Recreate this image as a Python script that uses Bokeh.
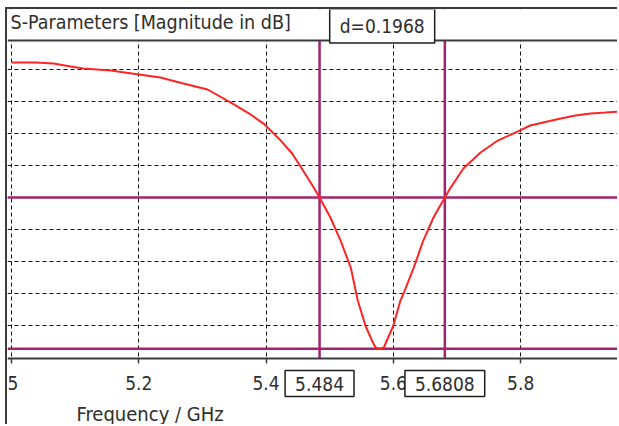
from bokeh.plotting import figure
from bokeh.models import Span, Label, FixedTicker, LinearAxis, Grid, BoxAnnotation
from bokeh.embed import file_html
from bokeh.resources import INLINE

# ---- data ----
freq_ghz = [5.000, 5.038, 5.066, 5.093, 5.113, 5.156, 5.200, 5.234, 5.270, 5.308,
            5.344, 5.371, 5.396, 5.423, 5.441, 5.454, 5.470, 5.484, 5.501, 5.517,
            5.533, 5.544, 5.556, 5.567, 5.572, 5.578, 5.585, 5.589, 5.600, 5.611,
            5.616, 5.632, 5.647, 5.663, 5.6808, 5.690, 5.710, 5.737, 5.764, 5.795,
            5.815, 5.842, 5.863, 5.886, 5.910, 5.933, 5.955]
s11_db = [-1.56, -1.56, -1.63, -1.81, -1.94, -2.06, -2.31, -2.50, -2.88, -3.25,
          -4.06, -4.69, -5.38, -6.44, -7.25, -8.06, -9.06, -10.00, -11.25, -12.69,
          -14.38, -16.44, -18.00, -19.00, -19.38, -19.45, -19.38, -19.00, -18.00, -16.44,
          -16.00, -14.38, -12.69, -11.25, -10.00, -9.38, -8.19, -7.19, -6.44, -5.88,
          -5.50, -5.25, -5.06, -4.88, -4.75, -4.69, -4.63]

x_ticks = [5.0, 5.2, 5.4, 5.6, 5.8]
x_tick_labels = ["5", "5.2", "5.4", "5.6", "5.8"]
y_grid_values = [-18, -16, -14, -12, -10, -8, -6, -4, -2]
y_plot_bottom = -20.06
y_plot_top = -0.19

marker_f1 = 5.484
marker_f2 = 5.6808
level_db = -10.0
bandwidth = 0.1968

title_text = "S-Parameters [Magnitude in dB]"
x_label_text = "Frequency / GHz"

FONT = "DejaVu Sans Condensed"
TEXT = "#2e2e2e"
FRAME = "#3c3c3c"
MAG = "#a3236e"
RED = "#ff2424"

p = figure(width=612, height=417,
           x_range=(4.99372, 5.95523), y_range=(-24.3125, 1.75),
           output_backend="svg", toolbar_location=None,
           x_axis_location=None, y_axis_location=None,
           min_border_left=0, min_border_right=0,
           min_border_top=0, min_border_bottom=0)
p.styles = {"margin-left": "5px", "margin-top": "7px",
            "border-left": "2px solid " + FRAME, "border-top": "2px solid " + FRAME}
p.outline_line_color = None
p.background_fill_color = "white"
p.border_fill_color = "white"

# grids (hide defaults, add own)
for g in p.grid:
    g.visible = False
p.add_layout(Grid(dimension=0, ticker=FixedTicker(ticks=x_ticks),
                  grid_line_color="#111111", grid_line_dash="4 3", grid_line_width=1))
p.add_layout(Grid(dimension=1, ticker=FixedTicker(ticks=y_grid_values),
                  grid_line_color="#111111", grid_line_dash="4 3", grid_line_width=1))

# markers
min_db = min(s11_db)
for loc in (marker_f1, marker_f2):
    p.add_layout(Span(location=loc, dimension="height", line_color=MAG, line_width=2.5, level="underlay"))
for loc in (level_db, min_db):
    p.add_layout(Span(location=loc, dimension="width", line_color=MAG, line_width=2.5, level="underlay"))

# blank the header and footer areas outside the plotting region
p.add_layout(BoxAnnotation(bottom=y_plot_top, fill_color="white", fill_alpha=1,
                           line_color=None, level="underlay"))
p.add_layout(BoxAnnotation(top=y_plot_bottom, fill_color="white", fill_alpha=1,
                           line_color=None, level="underlay"))

# x axis at the bottom of the plotting region
ax = LinearAxis(fixed_location=y_plot_bottom, ticker=FixedTicker(ticks=x_ticks))
ax.major_label_overrides = {t: s for t, s in zip(x_ticks, x_tick_labels)}
ax.axis_line_color = FRAME
ax.axis_line_width = 2
ax.major_tick_line_color = FRAME
ax.major_tick_line_width = 1.5
ax.major_tick_in = 0
ax.major_tick_out = 5
ax.minor_tick_line_color = None
ax.major_label_text_font = FONT
ax.major_label_text_font_size = "19px"
ax.major_label_text_color = TEXT
ax.major_label_standoff = 13
p.add_layout(ax, "below")

# top line of the plotting region
p.add_layout(Span(location=y_plot_top, dimension="width", line_color=FRAME, line_width=2))

# curve
p.line(freq_ghz, s11_db, line_color=RED, line_width=2)

# texts (positions in data units of the axes)
x_left = 5.0
p.add_layout(Label(x=x_left, y=0.94, text=title_text, x_offset=-1,
                   text_font=FONT, text_font_size="19.5px", text_color=TEXT,
                   text_baseline="middle", text_align="left"))
p.add_layout(Label(x=(marker_f1 + marker_f2) / 2, y=0.72,
                   text="d=%.4f" % bandwidth, text_font=FONT, text_font_size="19px",
                   text_color=TEXT, text_align="center", text_baseline="middle",
                   background_fill_color="white", border_line_color="#1e1e1e",
                   border_line_width=1.5, padding=(10, 6)))
for f in (marker_f1, marker_f2):
    p.add_layout(Label(x=f, y=-21.63,
                       text="%g" % f, text_font=FONT, text_font_size="19px",
                       text_color=TEXT, text_align="center", text_baseline="middle",
                       background_fill_color="white", border_line_color="#1e1e1e",
                       border_line_width=1.5, padding=(10, 6)))
p.add_layout(Label(x=x_left, y=-23.5, x_offset=65, text=x_label_text,
                   text_font=FONT, text_font_size="20px", text_color=TEXT,
                   text_baseline="middle", text_align="left"))

open("out.html", "w").write(file_html(p, INLINE))
